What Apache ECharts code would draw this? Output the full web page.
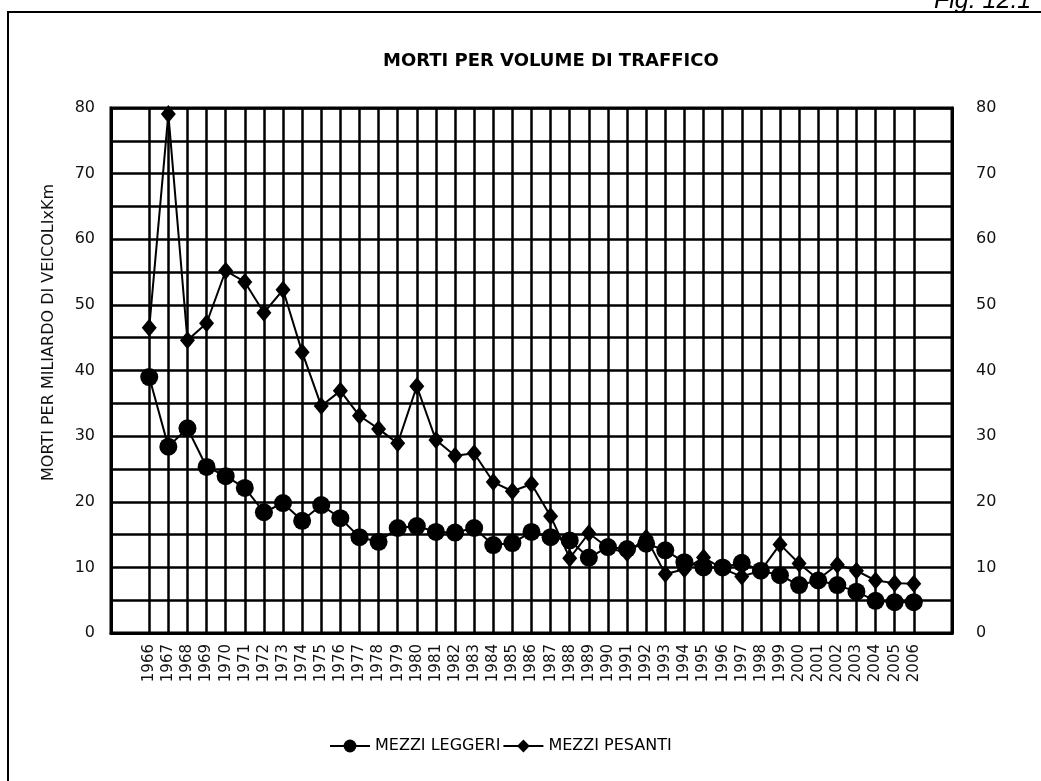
<!DOCTYPE html>
<html>
<head>
<meta charset="utf-8">
<script src="https://cdn.jsdelivr.net/npm/echarts@6/dist/echarts.min.js"></script>
<style>
  html, body { margin: 0; padding: 0; background: #fff; }
  #chart { width: 1041px; height: 781px; }
</style>
</head>
<body>
<div id="chart"></div>
<script>
// anni
const years = ['1966', '1967', '1968', '1969', '1970', '1971', '1972', '1973', '1974', '1975',
  '1976', '1977', '1978', '1979', '1980', '1981', '1982', '1983', '1984', '1985',
  '1986', '1987', '1988', '1989', '1990', '1991', '1992', '1993', '1994', '1995',
  '1996', '1997', '1998', '1999', '2000', '2001', '2002', '2003', '2004', '2005', '2006']

// morti per miliardo di veicoli x km
const leggeri = [39.0, 28.4, 31.2, 25.3, 23.9, 22.1, 18.4, 19.8, 17.1, 19.5,
  17.5, 14.6, 13.9, 16.0, 16.3, 15.4, 15.3, 16.0, 13.4, 13.7,
  15.4, 14.6, 14.1, 11.5, 13.1, 12.8, 13.6, 12.6, 10.8, 10.0,
  10.0, 10.7, 9.5, 8.8, 7.3, 8.0, 7.3, 6.3, 4.9, 4.7, 4.7]
const pesanti = [46.5, 79.1, 44.6, 47.2, 55.2, 53.5, 48.8, 52.3, 42.8, 34.6,
  36.9, 33.1, 31.1, 28.9, 37.6, 29.4, 27.0, 27.4, 23.0, 21.6,
  22.7, 17.8, 11.4, 15.2, 13.0, 12.2, 14.5, 9.0, 9.7, 11.5,
  9.8, 8.6, 9.5, 13.5, 10.6, 8.2, 10.4, 9.5, 8.0, 7.6, 7.5]

// due categorie vuote ai lati per il margine del grafico
const pad = ['', '']
const categories = pad.concat(years, pad)
const padData = arr => [null, null].concat(arr, [null, null])

const chart = echarts.init(document.getElementById('chart'))
const font = 'DejaVu Sans'

const yAxisBase = {
  type: 'value',
  min: 0,
  max: 80,
  interval: 5,
  axisTick: { show: false },
  axisLine: { show: true, lineStyle: { color: '#000', width: 3 } },
  axisLabel: {
    color: '#111',
    fontFamily: font,
    fontSize: 16,
    formatter: v => (v % 10 === 0 ? v : '')
  }
}

const option = {
  backgroundColor: '#fff',
  animation: false,
  title: {
    text: 'MORTI PER VOLUME DI TRAFFICO',
    left: 378,
    top: 47,
    textStyle: { fontFamily: font, fontSize: 18, fontWeight: 'bold', color: '#000' }
  },
  legend: {
    left: 324,
    top: 733,
    itemWidth: 40,
    itemHeight: 16,
    itemGap: 2,
    textStyle: { fontFamily: font, fontSize: 16, color: '#000' },
    data: ['MEZZI LEGGERI', 'MEZZI PESANTI']
  },
  grid: {
    left: 111,
    right: 89,
    top: 108,
    bottom: 148,
    show: true,
    borderColor: '#000',
    borderWidth: 3
  },
  xAxis: {
    type: 'category',
    boundaryGap: false,
    data: categories,
    axisTick: { show: false },
    axisLine: { lineStyle: { color: '#000', width: 3 } },
    axisLabel: {
      interval: 0,
      rotate: 90,
      margin: 11,
      color: '#111',
      fontFamily: font,
      fontSize: 15
    },
    splitLine: {
      show: true,
      interval: (i, v) => v !== '',
      lineStyle: { color: '#000', width: 2.5 }
    }
  },
  yAxis: [
    Object.assign({}, yAxisBase, {
      position: 'left',
      name: 'MORTI PER MILIARDO DI VEICOLIxKm',
      nameLocation: 'middle',
      nameGap: 54,
      nameTextStyle: { fontFamily: font, fontSize: 16, color: '#111', padding: [0, 0, 0, 76] },
      axisLabel: Object.assign({}, yAxisBase.axisLabel, { margin: 16 }),
      splitLine: { show: true, lineStyle: { color: '#000', width: 2.5 } }
    }),
    Object.assign({}, yAxisBase, {
      position: 'right',
      axisLabel: Object.assign({}, yAxisBase.axisLabel, { margin: 24 }),
      splitLine: { show: false }
    })
  ],
  series: [
    {
      name: 'MEZZI LEGGERI',
      type: 'line',
      data: padData(leggeri),
      symbol: 'circle',
      symbolSize: 18,
      itemStyle: { color: '#000' },
      lineStyle: { color: '#000', width: 2 },
      z: 3
    },
    {
      name: 'MEZZI PESANTI',
      type: 'line',
      data: padData(pesanti),
      symbol: 'diamond',
      symbolSize: [15, 18],
      itemStyle: { color: '#000' },
      lineStyle: { color: '#000', width: 2 },
      z: 4
    }
  ],
  graphic: [
    {
      type: 'rect',
      shape: { x: 8, y: 12, width: 1060, height: 800 },
      style: { fill: null, stroke: '#000', lineWidth: 2 },
      silent: true
    },
    {
      type: 'text',
      left: 934,
      top: -11,
      style: { text: 'Fig. 12.1', fontFamily: 'Liberation Sans', fontStyle: 'italic', fontSize: 25, fill: '#000' }
    }
  ]
}

chart.setOption(option)
</script>
</body>
</html>
